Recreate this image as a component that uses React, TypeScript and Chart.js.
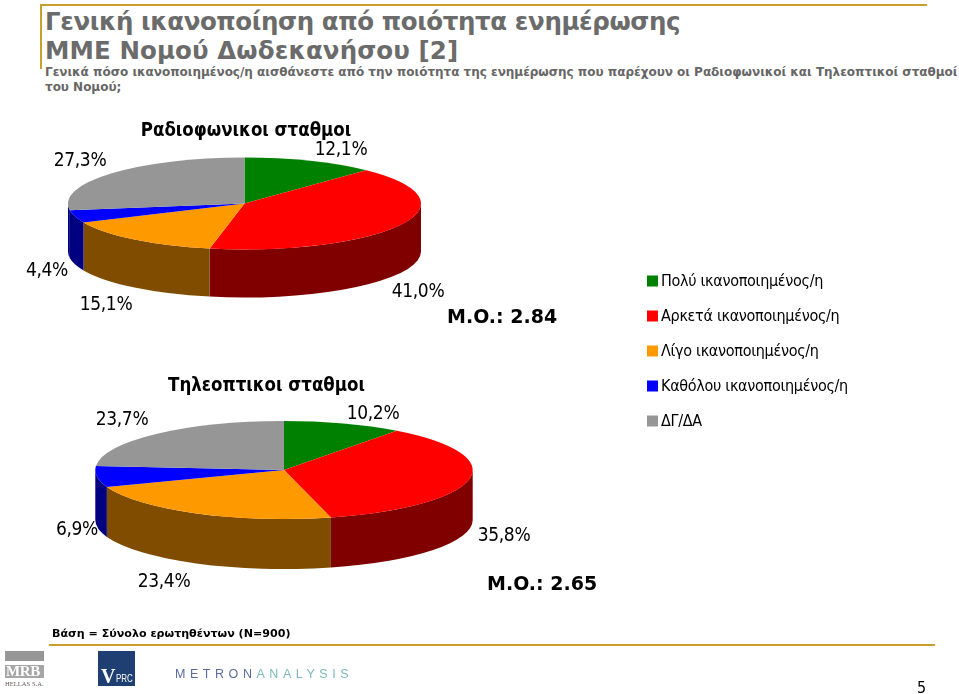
import React, { useEffect, useRef } from "react";
import { Chart, registerables } from "chart.js";

Chart.register(...registerables);

const categories = ["Πολύ ικανοποιημένος/η", "Αρκετά ικανοποιημένος/η", "Λίγο ικανοποιημένος/η", "Καθόλου ικανοποιημένος/η", "ΔΓ/ΔΑ"];
const radioValues = [12.1, 41.0, 15.1, 4.4, 27.3];
const tvValues = [10.2, 35.8, 23.4, 6.9, 23.7];
const radioTitle = "Ραδιοφωνικοι σταθμοι";
const tvTitle = "Τηλεοπτικοι σταθμοι";
const faceColors = ["#008000", "#FF0000", "#FF9900", "#0000FF", "#969696"];
const sideColors = ["#004000", "#800000", "#804C00", "#000080", "#000080"];

const LABEL_FONT = "'DejaVu Sans Condensed', 'DejaVu Sans', sans-serif";
const HEAD_FONT = "'DejaVu Sans', Verdana, sans-serif";

type PieGeom = {
  cx: number; cy: number; rx: number; ry: number; depth: number;
  labelPos: [number, number][];
  title: string; titleX: number; titleY: number;
  mean: string; meanX: number; meanY: number;
  legend?: boolean;
};

const radioGeom: PieGeom = {
  cx: 244.5, cy: 203.5, rx: 176.5, ry: 46, depth: 48,
  labelPos: [[341, 150], [418, 292], [106, 305], [47, 271], [80, 161]],
  title: radioTitle, titleX: 246, titleY: 131,
  mean: "M.O.: 2.84", meanX: 447, meanY: 318,
  legend: true,
};
const tvGeom: PieGeom = {
  cx: 284, cy: 470, rx: 188.7, ry: 49, depth: 50,
  labelPos: [[373, 414], [504, 536], [164, 582], [77, 530], [122, 420]],
  title: tvTitle, titleX: 266.5, titleY: 386,
  mean: "M.O.: 2.65", meanX: 487, meanY: 585,
};

const legendRows = { boxX: 647, textX: 661, firstY: 281, step: 35, box: 11 };

function pie3dPlugin(g: PieGeom) {
  const apply = (chart: any) => {
    const arcs = chart.getDatasetMeta(0).data as any[];
    const first = arcs[0];
    const ctx = chart.ctx;
    ctx.translate(g.cx, g.cy);
    ctx.scale(g.rx / first.outerRadius, g.ry / first.outerRadius);
    ctx.translate(-first.x, -first.y);
  };
  return {
    id: "pie3d",
    beforeDatasetsDraw(chart: any) {
      const arcs = chart.getDatasetMeta(0).data as any[];
      const ctx = chart.ctx as CanvasRenderingContext2D;
      const two = Math.PI * 2;
      arcs.forEach((arc, i) => {
        let s = arc.startAngle;
        let e = arc.endAngle;
        while (s < 0) { s += two; e += two; }
        const from = Math.max(s, 0);
        const to = Math.min(e, Math.PI);
        const draw = (a: number, b: number) => {
          if (b <= a) return;
          ctx.beginPath();
          ctx.ellipse(g.cx, g.cy, g.rx, g.ry, 0, a, b, false);
          ctx.ellipse(g.cx, g.cy + g.depth, g.rx, g.ry, 0, b, a, true);
          ctx.closePath();
          ctx.fillStyle = sideColors[i];
          ctx.fill();
        };
        draw(from, to);
        if (e > two) draw(0, Math.min(e - two, Math.PI));
      });
      ctx.save();
      apply(chart);
    },
    afterDatasetsDraw(chart: any) {
      const ctx = chart.ctx as CanvasRenderingContext2D;
      ctx.restore();
      ctx.fillStyle = "#000";
      ctx.textBaseline = "middle";
      ctx.textAlign = "center";
      ctx.font = `19px ${LABEL_FONT}`;
      (ctx as any).letterSpacing = "-0.35px";
      const values = chart.data.datasets[0].data as number[];
      values.forEach((v, i) => {
        const [x, y] = g.labelPos[i];
        ctx.fillText(v.toFixed(1).replace(".", ",") + "%", x, y);
      });
      (ctx as any).letterSpacing = "0px";
      ctx.font = `bold 18.5px ${LABEL_FONT}`;
      ctx.fillText(g.title, g.titleX, g.titleY);
      ctx.font = `bold 19px ${HEAD_FONT}`;
      ctx.textAlign = "left";
      ctx.fillText(g.mean, g.meanX, g.meanY);
      if (g.legend) {
        const colors = chart.data.datasets[0].backgroundColor as string[];
        ctx.font = `16px ${LABEL_FONT}`;
        (ctx as any).letterSpacing = "-0.3px";
        (chart.data.labels as string[]).forEach((label, i) => {
          const y = legendRows.firstY + i * legendRows.step;
          ctx.fillStyle = colors[i];
          ctx.fillRect(legendRows.boxX, y - legendRows.box / 2, legendRows.box, legendRows.box);
          ctx.fillStyle = "#000";
          ctx.fillText(label, legendRows.textX, y + 1);
        });
        (ctx as any).letterSpacing = "0px";
      }
    },
  };
}

function Pie3D({ values, geom }: { values: number[]; geom: PieGeom }) {
  const ref = useRef<HTMLCanvasElement>(null);
  useEffect(() => {
    const chart = new Chart(ref.current!, {
      type: "pie",
      data: {
        labels: categories,
        datasets: [{ data: values, backgroundColor: faceColors, borderWidth: 0, clip: false as any }],
      },
      options: {
        animation: false,
        responsive: false,
        layout: { padding: 0 },
        plugins: { legend: { display: false }, tooltip: { enabled: false }, title: { display: false } },
      },
      plugins: [pie3dPlugin(geom)],
    });
    return () => chart.destroy();
  }, []);
  return <canvas ref={ref} width={959} height={694} style={{ position: "absolute", left: 0, top: 0, width: 959, height: 694 }} />;
}

const abs = (o: React.CSSProperties): React.CSSProperties => ({ position: "absolute", whiteSpace: "nowrap", ...o });
const GOLD = "#C9A02C";

export default function App() {
  return (
    <div style={{ position: "fixed", left: 0, top: 0, width: 959, height: 694, background: "#fff", overflow: "hidden" }}>
      <div style={abs({ left: 40, top: 4, width: 887, height: 2, background: GOLD })} />
      <div style={abs({ left: 40, top: 4, width: 2, height: 65, background: GOLD })} />
      <div style={abs({ left: 49, top: 644, width: 886, height: 2, background: GOLD })} />
      <div style={abs({ left: 45, top: 7, font: `bold 24.5px/29px ${HEAD_FONT}`, color: "#6B6B6B" })}>
        <span style={{ letterSpacing: -0.4 }}>Γενική ικανοποίηση από ποιότητα ενημέρωσης</span>
        <br />
        <span style={{ letterSpacing: 0.1 }}>ΜΜΕ Νομού Δωδεκανήσου [2]</span>
      </div>
      <div style={abs({ left: 45, top: 65, font: `bold 12px/15px ${HEAD_FONT}`, letterSpacing: -0.02, color: "#666" })}>
        Γενικά πόσο ικανοποιημένος/η αισθάνεστε από την ποιότητα της ενημέρωσης που παρέχουν οι Ραδιοφωνικοί και Τηλεοπτικοί σταθμοί
        <br />
        του Νομού;
      </div>
      <Pie3D values={radioValues} geom={radioGeom} />
      <Pie3D values={tvValues} geom={tvGeom} />
      <div style={abs({ left: 52, top: 626, font: `bold 11.1px/16px ${HEAD_FONT}`, color: "#000" })}>
        Βάση = Σύνολο ερωτηθέντων (Ν=900)
      </div>
      <div style={abs({ left: 5, top: 651, width: 39, height: 10, background: "#969696" })} />
      <div style={abs({ left: 5, top: 665, width: 39, height: 13, background: "#A6A6A6" })} />
      <div style={abs({ left: 6, top: 664, font: "bold 15px/15px 'Liberation Serif', serif", letterSpacing: -0.4, color: "#fff" })}>MRB</div>
      <div style={abs({ left: 5, top: 679, font: "6.6px/9px 'Liberation Serif', serif", color: "#6A5A5A" })}>HELLAS S.A.</div>
      <div style={abs({ left: 98, top: 651, width: 37, height: 35, background: "#1F3F73" })} />
      <div style={abs({ left: 101, top: 666, font: "bold 20px/20px 'Liberation Serif', serif", color: "#fff" })}>V</div>
      <div style={abs({ left: 116, top: 673, font: "10px/12px 'Liberation Sans', sans-serif", transform: "scaleX(0.8)", transformOrigin: "left center", color: "#fff" })}>PRC</div>
      <div style={abs({ left: 175, top: 667, font: "12.5px/14px 'Liberation Sans', sans-serif", letterSpacing: 4.55, color: "#5C6C9C" })}>
        METRON<span style={{ color: "#7CB8BC" }}>ANALYSIS</span>
      </div>
      <div style={abs({ left: 917, top: 679, font: `16px/18px ${LABEL_FONT}`, color: "#000" })}>5</div>
    </div>
  );
}
